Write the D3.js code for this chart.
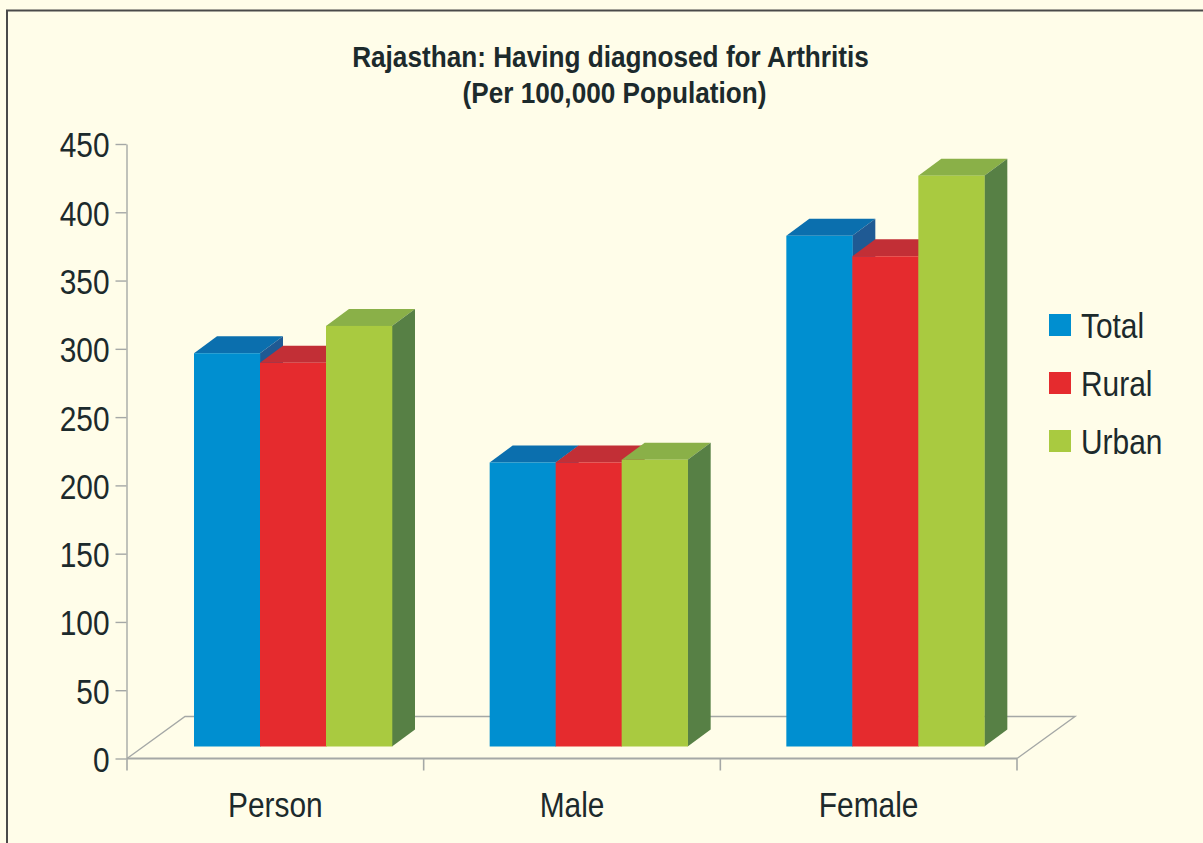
<!DOCTYPE html>
<html><head><meta charset="utf-8">
<script src="https://cdn.jsdelivr.net/npm/d3@7"></script>
<style>
html,body{margin:0;padding:0;background:#fffde9;overflow:hidden}
svg{display:block}
text{font-family:"Liberation Sans",sans-serif;fill:#1c2a2c}
</style></head><body>
<svg id="c" width="1203" height="843"></svg>
<script>
const categories = ["Person","Male","Female"];
const seriesNames = ["Total","Rural","Urban"];
const total = [288,208,374];
const rural = [281,208,359];
const urban = [308,210,418];
const yTicks = [0,50,100,150,200,250,300,350,400,450];
const titleLines = ["Rajasthan: Having diagnosed for Arthritis","(Per 100,000 Population)"];
const frontColors = ["#008fd0","#e52b2e","#a9ca40"];
const topColors = ["#0b6fae","#c22f36","#8ab048"];
const sideColors = ["#1f5a94","#a82a30","#578045"];

const series = [total,rural,urban];
const svg = d3.select("#c");
const W=1203,H=843;
const narrow=0.83;
svg.append("rect").attr("width",W).attr("height",H).attr("fill","#fffde9");
svg.append("path").attr("d",`M7,${H}V10.5H${W}`).attr("fill","none").attr("stroke","#4a4a4a").attr("stroke-width",2);

const x0 = d3.scaleBand().domain(categories).range([127,1017]);
const xi = d3.scaleBand().domain(seriesNames).range([0,198]);
const axisY = d3.scaleLinear().domain([0,450]).range([758.5,144]);
const barBase = 746.5;
const barH = d3.scaleLinear().domain([0,450]).range([0,614.5]);
const barShift = 67, depthX=23, depthY=17, floorX=58, floorY=42;
const gray="#a5a8a6";

svg.append("path").attr("d",`M127,758.5L${127+floorX},${758.5-floorY}H${1017+floorX}L1017,758.5`)
 .attr("fill","none").attr("stroke",gray).attr("stroke-width",1.4);

const gy = svg.append("g").attr("transform","translate(126.5,0)")
  .call(d3.axisLeft(axisY).tickValues(yTicks).tickSize(11).tickPadding(6).tickSizeOuter(0));
gy.selectAll("path,line").attr("stroke",gray).attr("stroke-width",1.4);
gy.selectAll("text").attr("font-size",36).attr("fill","#1c2a2c").attr("dy","0.36em")
  .attr("x",-17/narrow).attr("transform",`scale(${narrow},1)`);

const gx = svg.append("g").attr("transform","translate(0,758.5)")
  .call(d3.axisBottom(x0).tickSize(0).tickPadding(33));
gx.select("path").attr("stroke",gray).attr("stroke-width",2).attr("d","M127,0H1017");
gx.selectAll("text").attr("font-size",36).attr("fill","#1c2a2c").attr("transform",`scale(${narrow},1)`);
svg.append("g").selectAll("line").data([...categories.map(c=>x0(c)),1017]).join("line")
  .attr("x1",d=>d).attr("x2",d=>d).attr("y1",758.5).attr("y2",770.5)
  .attr("stroke",gray).attr("stroke-width",1.6);

categories.forEach((c,ci)=>{
  seriesNames.forEach((s,si)=>{
    const v = series[si][ci];
    const x = x0(c)+barShift-(ci?1:0)+xi(s), w = xi.bandwidth(), h = barH(v), yT = barBase-h;
    const g = svg.append("g");
    g.append("path").attr("fill",topColors[si])
      .attr("d",`M${x},${yT}l${depthX},${-depthY}h${w}l${-depthX},${depthY}z`);
    g.append("path").attr("fill",sideColors[si])
      .attr("d",`M${x+w},${yT}l${depthX},${-depthY}v${h}l${-depthX},${depthY}z`);
    g.append("rect").attr("x",x).attr("y",yT).attr("width",w+0.3).attr("height",h).attr("fill",frontColors[si]);
  });
});

const t = svg.append("g");
titleLines.forEach((l,i)=>{
  t.append("text").attr("transform",`translate(${[610.5,614.5][i]},${[67,103][i]}) scale(0.873,1)`)
   .attr("text-anchor","middle").attr("font-size",30).attr("font-weight","bold").text(l);
});

const ly = d3.scalePoint().domain(seriesNames).range([325,441]);
const lg = svg.append("g");
seriesNames.forEach((s,i)=>{
  lg.append("rect").attr("x",1049).attr("y",ly(s)-11).attr("width",22).attr("height",22).attr("fill",frontColors[i]);
  lg.append("text").attr("transform",`translate(1081,${ly(s)+13}) scale(${narrow},1)`).attr("font-size",36).text(s);
});
</script>
</body></html>
